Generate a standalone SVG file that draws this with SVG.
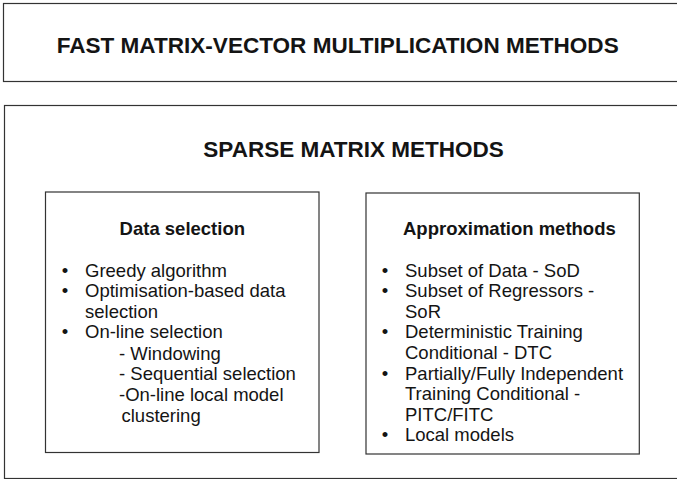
<svg xmlns="http://www.w3.org/2000/svg" width="677" height="479" viewBox="0 0 677 479">
<style>
.box{fill:#fff;stroke:#333;stroke-width:1.2}
.title{font-family:"Liberation Sans",Arial,sans-serif;font-weight:bold;font-size:22.5px;fill:#141414}
.head{font-family:"Liberation Sans",Arial,sans-serif;font-weight:bold;font-size:18.5px;fill:#141414}
.item{font-family:"Liberation Sans",Arial,sans-serif;font-size:18.5px;fill:#141414}
.bul{font-family:"Liberation Sans",Arial,sans-serif;font-size:18.5px;fill:#141414;text-anchor:middle}
</style>
<rect width="677" height="479" fill="#fff"/>
<g id="fast-methods">
<rect class="box" x="3.5" y="3.5" width="700" height="78"/>
<text class="title" x="56.7" y="52.7" textLength="562" lengthAdjust="spacingAndGlyphs">FAST MATRIX-VECTOR MULTIPLICATION METHODS</text>
</g>
<g id="sparse-methods">
<rect class="box" x="4.5" y="105.5" width="700" height="373"/>
<text class="title" x="203.3" y="156.7">SPARSE MATRIX METHODS</text>
</g>
<g id="data-selection">
<rect class="box" x="45.5" y="192" width="273.5" height="260.5"/>
<text class="head" x="182.3" y="235" text-anchor="middle">Data selection</text>
<text class="bul" x="65" y="276.7">•</text>
<text class="item" x="85" y="276.7">Greedy algorithm</text>
<text class="bul" x="65" y="297.3">•</text>
<text class="item" x="85" y="297.3">Optimisation-based data</text>
<text class="item" x="85" y="317.7">selection</text>
<text class="bul" x="65" y="338.3">•</text>
<text class="item" x="85" y="338.3">On-line selection</text>
<text class="item" x="119" y="359.5">- Windowing</text>
<text class="item" x="119" y="380.3">- Sequential selection</text>
<text class="item" x="119" y="401">-On-line local model</text>
<text class="item" x="121.5" y="421.5">clustering</text>
</g>
<g id="approximation-methods">
<rect class="box" x="366" y="193" width="273.3" height="261"/>
<text class="head" x="403" y="235">Approximation methods</text>
<text class="bul" x="385" y="276.7">•</text>
<text class="item" x="405" y="276.7">Subset of Data - SoD</text>
<text class="bul" x="385" y="297">•</text>
<text class="item" x="405" y="297">Subset of Regressors -</text>
<text class="item" x="405" y="317.5">SoR</text>
<text class="bul" x="385" y="338">•</text>
<text class="item" x="405" y="338">Deterministic Training</text>
<text class="item" x="405" y="358.8">Conditional - DTC</text>
<text class="bul" x="385" y="379.5">•</text>
<text class="item" x="405" y="379.5">Partially/Fully Independent</text>
<text class="item" x="405" y="400">Training Conditional -</text>
<text class="item" x="405" y="420.5">PITC/FITC</text>
<text class="bul" x="385" y="441">•</text>
<text class="item" x="405" y="441">Local models</text>
</g>
</svg>
